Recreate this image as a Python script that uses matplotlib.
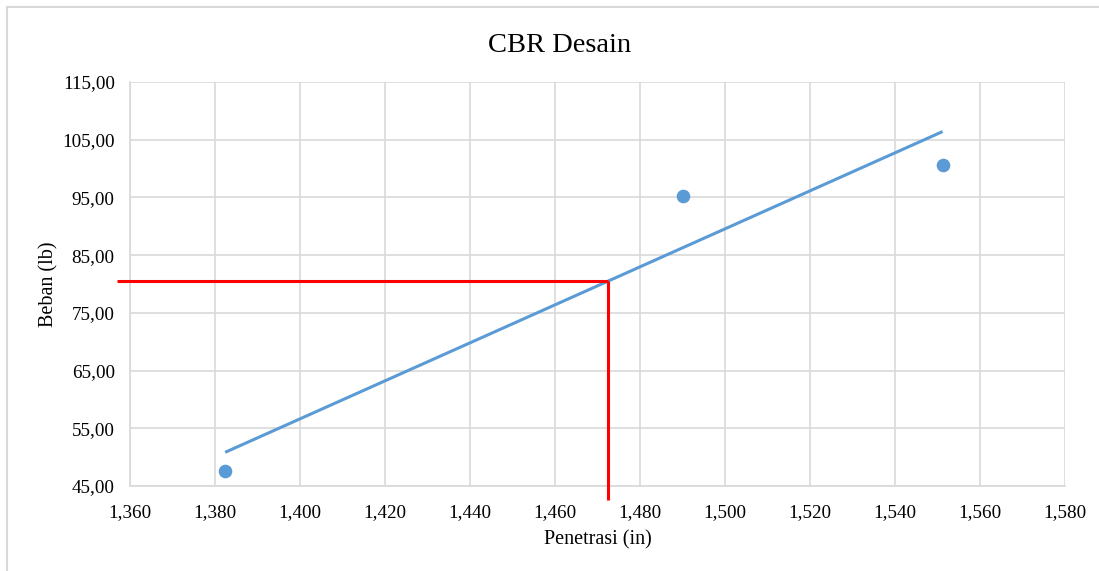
import numpy as np
import matplotlib.pyplot as plt
from matplotlib.lines import Line2D

# data
penetrasi = [1.3824, 1.4901, 1.5512]
beban = [47.6, 95.25, 100.7]
x_desain = 1.4725
y_desain = 80.5
x_ticks = [1.36, 1.38, 1.40, 1.42, 1.44, 1.46, 1.48, 1.50, 1.52, 1.54, 1.56, 1.58]
y_ticks = [45, 55, 65, 75, 85, 95, 105, 115]

plt.rcParams['font.family'] = ['Liberation Serif', 'DejaVu Serif']

fig = plt.figure(figsize=(10.99, 5.71), dpi=100)
ax = fig.add_axes([130 / 1099, 85 / 571, 935 / 1099, 404 / 571])

blue = '#5B9BD5'
grid = '#D9D9D9'

# linear trendline
k, b = np.polyfit(penetrasi, beban, 1)
xt = np.array([min(penetrasi), max(penetrasi)])
ax.plot(xt, k * xt + b, color=blue, lw=2.2, solid_capstyle='butt', zorder=3)
ax.plot(penetrasi, beban, 'o', color=blue, ms=8.8, zorder=4)

# design lines (go past the axes)
ax.plot([1.357, x_desain], [y_desain, y_desain], color='#FF0000', lw=2.2,
        clip_on=False, zorder=5, solid_capstyle='butt')
ax.plot([x_desain, x_desain], [y_desain, 42.6], color='#FF0000', lw=2.2,
        clip_on=False, zorder=5, solid_capstyle='butt')

ax.set_xlim(1.36, 1.58)
ax.set_ylim(45, 115)
ax.set_xticks(x_ticks)
ax.set_yticks(y_ticks)
ax.set_xticklabels([f'{v:.3f}'.replace('.', ',') for v in x_ticks])
ax.set_yticklabels([f'{v:.2f}'.replace('.', ',') for v in y_ticks])
ax.tick_params(length=0, labelsize=13.8)
ax.tick_params(axis='y', pad=11)
ax.tick_params(axis='x', pad=13)
ax.grid(True, color=grid, lw=1.2)
ax.set_axisbelow(True)
for s in ['top', 'right']:
    ax.spines[s].set_visible(False)
ax.spines['left'].set_color(grid)
ax.spines['bottom'].set_color(grid)
ax.spines['left'].set_linewidth(1.2)
ax.spines['bottom'].set_linewidth(1.2)

ax.set_xlabel('Penetrasi (in)', fontsize=14.5, labelpad=6.5)
ax.set_ylabel('Beban (lb)', fontsize=14.5, labelpad=3)
fig.text(560 / 1099, 1 - 45 / 571, 'CBR Desain', fontsize=20.5,
         ha='center', va='center')

# chart area border
fig.add_artist(Line2D([7 / 1099, 1], [1 - 7 / 571, 1 - 7 / 571],
                      color='#D9D9D9', lw=1.5, transform=fig.transFigure))
fig.add_artist(Line2D([7 / 1099, 7 / 1099], [0, 1 - 7 / 571],
                      color='#D9D9D9', lw=1.5, transform=fig.transFigure))

fig.savefig('out.png', dpi=100)
